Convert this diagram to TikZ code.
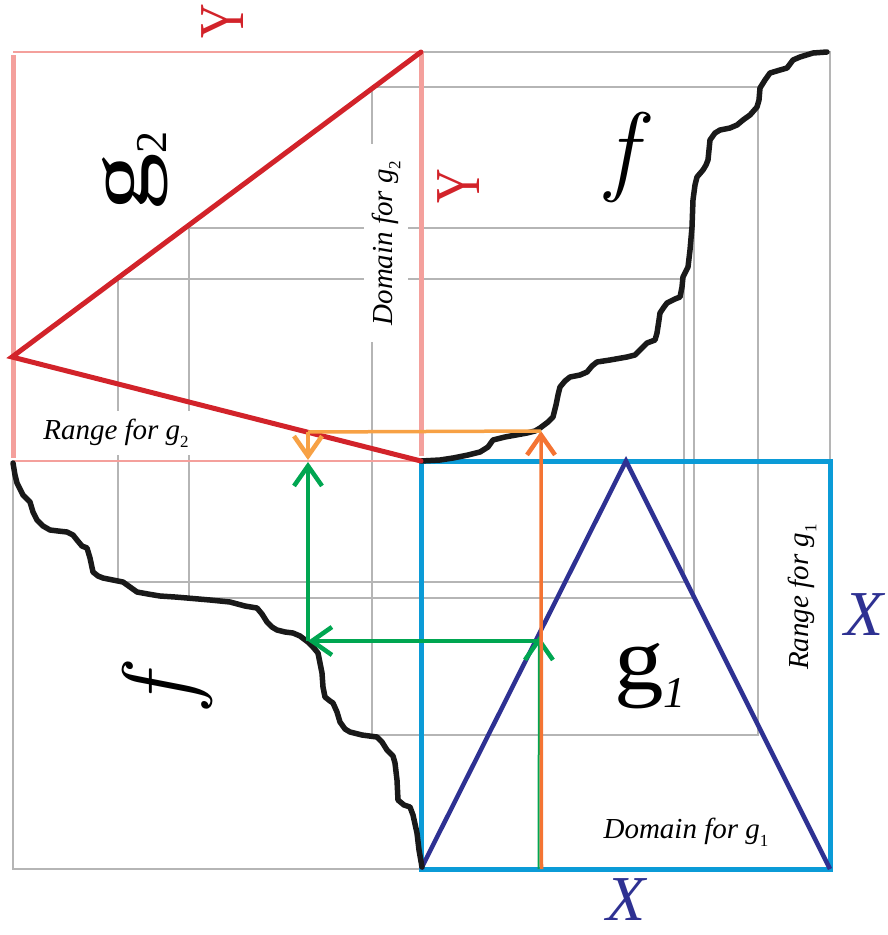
\documentclass[tikz,border=0pt]{standalone}
\usepackage{fontspec}
\setmainfont{Liberation Serif}
\newfontfamily\lmfont{Latin Modern Roman}
\usetikzlibrary{arrows.meta}

\definecolor{pinkedge}{HTML}{F4A09C}
\definecolor{gtwored}{HTML}{D2232A}
\definecolor{gonenavy}{HTML}{2E3192}
\definecolor{boxblue}{HTML}{0B9BD7}
\definecolor{arrowgreen}{HTML}{00A651}
\definecolor{arroworange}{HTML}{F7A145}
\definecolor{arrowred}{HTML}{F47433}
\definecolor{guidegray}{HTML}{B5B5B5}

\newcommand{\lowsub}[1]{\raisebox{-0.28em}{\fontsize{17}{17}\selectfont\upshape #1}}

\begin{document}
\begin{tikzpicture}[x=1pt, y=-1pt,
  guide/.style={draw=guidegray, line width=1.3pt},
  pinkthick/.style={draw=pinkedge, line width=5pt},
  pinkthin/.style={draw=pinkedge, line width=2.2pt},
  redline/.style={draw=gtwored, line width=5pt, line cap=round},
  blueline/.style={draw=boxblue, line width=5pt},
  navyline/.style={draw=gonenavy, line width=4.5pt, line join=miter},
  fcurve/.style={draw=black!90, line width=5.5pt, line join=round, line cap=round},
  greenline/.style={draw=arrowgreen, line width=4.5pt},
  orangeline/.style={draw=arroworange, line width=3.5pt},
  barb/.style={-{Straight Barb[length=20pt, width=28pt, line width=4.5pt]}},
  lab/.style={inner sep=0pt, font=\fontsize{29}{29}\selectfont\itshape},
  labbox/.style={lab, fill=white, inner xsep=17pt, inner ysep=8pt},
  gbig/.style={inner sep=0pt, font=\fontsize{90}{90}\selectfont},
  fbig/.style={inner sep=0pt, font=\lmfont\fontsize{100}{100}\selectfont\itshape},
  ylab/.style={inner sep=0pt, text=gtwored, font=\fontsize{64}{64}\selectfont},
  xlab/.style={inner sep=0pt, text=gonenavy, font=\fontsize{64}{64}\selectfont\itshape}]

  \useasboundingbox (0,0) rectangle (887,935);

  % corners of the four squares
  \coordinate (tl) at (13,52);
  \coordinate (tm) at (421,52);
  \coordinate (tr) at (830,52);
  \coordinate (ml) at (13,461);
  \coordinate (mm) at (421,461);
  \coordinate (mr) at (830,461);
  \coordinate (bl) at (13,869);
  \coordinate (bm) at (421,869);
  \coordinate (br) at (830,869);
  \coordinate (gtwotip) at (12,357);
  \coordinate (gonetip) at (626,461);

  % grey frames and orbit guides
  \draw[guide] (tm) -- (tr) -- (mr);
  \draw[guide] (ml) -- (bl) -- (bm);
  \draw[guide] (372,87) rectangle (758,735);
  \draw[guide] (189,228) rectangle (694,598);
  \draw[guide] (118,279) rectangle (684,582);

  \node[labbox, rotate=90] (domtwo) at (386,243) {Domain for g\lowsub{2}};
  \node[labbox] (rangetwo) at (116,433) {Range for g\lowsub{2}};

  % g2 box
  \draw[pinkthin] (tl) -- (tm);
  \draw[pinkthin] (ml) -- (mm);
  \draw[pinkthick] (13,55) -- (13,458);
  \draw[pinkthick] (tm) -- (421,456);

  % g1 box
  \draw[blueline] (mm) rectangle (br);
  \draw[navyline] (bm) -- (gonetip) -- (br);

  % f, twice
  \draw[fcurve] plot coordinates {(421,461) (440,460) (453,458) (468,455)
    (480,452) (488,447) (493,440) (505,437) (527,433) (535,431) (540,428)
    (548,422) (553,417) (556,405) (558,395) (560,387) (565,381) (570,377)
    (580,375) (587,372) (592,366) (597,362) (610,360) (627,357) (635,355)
    (640,350) (647,343) (655,340) (657,333) (659,320) (660,313) (664,307)
    (667,303) (675,299) (680,297) (682,287) (683,277) (688,267) (690,250)
    (692,227) (693,200) (695,185) (697,177) (703,170) (706,165) (708,160)
    (709,150) (710,140) (715,133) (720,130) (730,128) (737,125) (743,120)
    (750,115) (757,107) (759,100) (760,88) (765,80) (770,73) (780,70)
    (787,68) (793,60) (800,57) (813,53) (827,52)};
  \draw[fcurve] plot coordinates {(13,463) (15,475) (17,483) (23,495)
    (30,502) (33,512) (37,520) (43,526) (50,530) (58,531) (67,532) (73,535)
    (77,540) (82,546) (87,548) (90,558) (93,572) (98,576) (103,578)
    (113,580) (123,582) (130,587) (137,592) (148,594) (160,596) (175,597)
    (187,598) (210,600) (230,602) (245,606) (257,608) (262,614) (267,622)
    (272,627) (277,630) (285,632) (293,633) (300,636) (308,642) (313,647)
    (318,653) (320,663) (322,673) (323,687) (325,697) (330,701) (333,703)
    (337,712) (340,722) (345,729) (350,732) (362,735) (377,737) (382,742)
    (387,750) (393,756) (395,763) (397,780) (398,800) (404,805) (410,807)
    (413,815) (417,833) (419,850) (422,867)};

  % g2
  \draw[redline] (tm) -- (gtwotip) -- (mm);

  % one step of the orbit
  \coordinate (xstart) at (538.5,869);
  \coordinate (xstartb) at (541.5,869);
  \coordinate (hitgone) at (539,636);
  \coordinate (gonestart) at (539,641);
  \coordinate (hitf) at (541,431);
  \coordinate (hitgtwo) at (308,432);
  \coordinate (ydrop) at (308,460);
  \coordinate (hitfleft) at (308,641);
  \coordinate (yrise) at (308,462);

  \draw[greenline, line width=2pt, barb] (xstart) -- (hitgone);
  \draw[orangeline, draw=arrowred, barb] (xstartb) -- (hitf);
  \draw[greenline, barb] (gonestart) -- (hitfleft);
  \draw[greenline, barb] (hitfleft) -- (yrise);
  \draw[orangeline] (hitf) -- (hitgtwo);
  \draw[orangeline, barb] (hitgtwo) -- (ydrop);

  % labels
  \node[ylab, rotate=90] (ytop) at (223,21) {\scalebox{0.75}[1]{Y}};
  \node[ylab, rotate=90] (yright) at (459,186) {\scalebox{0.75}[1]{Y}};
  \node[xlab] (xright) at (864,615) {X};
  \node[xlab] (xbottom) at (626,900) {X};
  \node[gbig, rotate=90, anchor=base west] (gtwo) at (148,212)
    {\scalebox{1.3}[1]{g}\raisebox{-18pt}{\fontsize{44}{44}\selectfont 2}};
  \node[gbig, anchor=base west] (gone) at (614,689)
    {\scalebox{1.1}[1]{g}\raisebox{-18pt}{\fontsize{44}{44}\selectfont\itshape 1}};
  \node[fbig] (ftop) at (621,157) {f};
  \node[fbig, rotate=90] (fbottom) at (167,691) {f};
  \node[lab, rotate=90] (rangeone) at (802,597) {Range for g\lowsub{1}};
  \node[lab] (domone) at (686,832) {Domain for g\lowsub{1}};
\end{tikzpicture}
\end{document}
